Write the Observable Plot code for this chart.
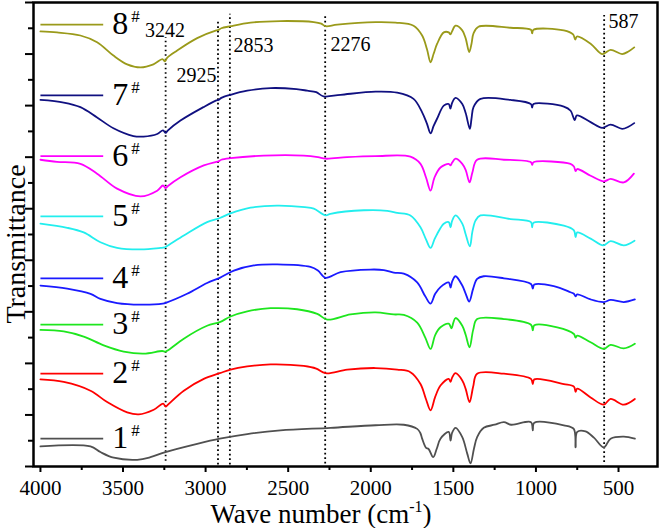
<!DOCTYPE html>
<html><head><meta charset="utf-8">
<script src="https://cdn.jsdelivr.net/npm/d3@7"></script>
<script src="https://cdn.jsdelivr.net/npm/@observablehq/plot@0.6"></script>
<style>body{margin:0;background:#fff}</style>
</head><body><div id="chart"></div>
<script>
// Spectra: [wave number (cm-1), transmittance (arbitrary, stacked)]
const s1 = [[4000,3.9],[3697,3.9],[3637,2.8],[3556,1.7],[3414,1.3],[3334,1.8],[3243,2.8],[3051,4.4],[2914,5.4],[2748,6.3],[2547,7.0],[2244,7.5],[1971,8.0],[1800,8.1],[1719,7.3],[1700,6.5],[1689,5.4],[1665,3.6],[1650,3.4],[1622,1.8],[1600,3.5],[1578,5.4],[1528,6.7],[1517,5.0],[1508,6.5],[1487,7.5],[1446,5.7],[1416,2.5],[1396,0.6],[1375,3.5],[1356,5.7],[1316,7.5],[1250,8.1],[1194,8.6],[1150,8.1],[1030,8.6],[1019,7.0],[1010,8.5],[831,8.0],[771,7.3],[760,3.7],[750,6.7],[700,6.8],[649,5.6],[589,3.7],[548,5.4],[468,5.8],[401,5.4]];
const s2 = [[4000,16.9],[3859,16.4],[3697,14.7],[3596,12.5],[3475,10.5],[3405,10.1],[3314,11.0],[3257,12.2],[3242,11.6],[3228,12.0],[3132,14.7],[3011,17.0],[2914,18.1],[2849,18.8],[2748,19.4],[2607,19.8],[2406,19.5],[2330,19.0],[2274,18.1],[2143,18.8],[1971,19.1],[1840,18.8],[1760,18.3],[1699,16.0],[1665,13.0],[1638,10.9],[1610,13.5],[1578,15.7],[1528,17.0],[1517,16.4],[1508,17.2],[1487,18.1],[1446,16.7],[1425,15.0],[1402,12.5],[1380,15.5],[1356,18.0],[1194,18.0],[1030,17.0],[1019,16.0],[1010,16.9],[831,16.0],[770,15.5],[760,14.5],[750,15.1],[669,13.4],[589,12.0],[548,13.1],[468,12.0],[401,13.1]];
const s3 = [[4000,26.5],[3859,26.2],[3738,25.2],[3617,23.5],[3496,22.3],[3374,21.9],[3263,22.4],[3243,22.3],[3225,22.6],[3132,24.8],[2991,27.3],[2914,28.0],[2849,29.1],[2748,30.1],[2607,30.7],[2446,30.5],[2324,29.6],[2264,28.5],[2123,29.5],[1971,29.9],[1861,29.5],[1800,29.4],[1719,27.9],[1670,25.0],[1638,22.8],[1610,25.5],[1578,27.0],[1528,27.7],[1511,26.8],[1500,27.9],[1487,28.8],[1446,27.3],[1425,25.5],[1402,23.1],[1380,26.5],[1356,28.6],[1194,28.6],[1030,27.5],[1019,26.4],[1010,27.4],[871,27.0],[770,25.7],[760,25.0],[750,25.4],[669,24.1],[589,22.8],[548,23.6],[468,22.9],[401,23.8]];
const s4 = [[4000,35.1],[3838,34.5],[3697,33.5],[3637,32.5],[3536,31.7],[3394,31.4],[3260,31.6],[3237,31.8],[3112,33.5],[2991,35.6],[2914,36.6],[2829,38.0],[2708,39.0],[2567,39.2],[2365,38.7],[2320,38.0],[2274,36.6],[2183,37.7],[2002,38.2],[1921,38.1],[1861,37.6],[1800,37.4],[1719,35.7],[1670,33.0],[1638,31.6],[1610,33.5],[1578,34.8],[1528,35.7],[1517,34.7],[1508,35.8],[1487,36.9],[1446,35.1],[1425,33.5],[1404,32.0],[1380,34.5],[1356,36.4],[1316,36.9],[1194,36.5],[1030,35.4],[1019,34.5],[1010,35.3],[892,35.0],[791,33.8],[770,33.5],[760,33.0],[750,33.4],[669,32.4],[589,31.9],[548,32.3],[468,31.9],[401,32.4]];
const s5 = [[4000,47.1],[3838,46.3],[3738,45.4],[3637,43.5],[3536,42.4],[3394,42.1],[3273,42.4],[3250,42.5],[3237,42.7],[3132,44.8],[2991,47.4],[2914,48.2],[2849,49.1],[2728,50.2],[2567,50.6],[2400,50.3],[2345,50.0],[2274,48.7],[2244,49.0],[2042,49.7],[1900,49.6],[1840,49.2],[1760,48.7],[1699,46.4],[1665,44.0],[1638,42.4],[1615,44.0],[1598,45.1],[1558,47.1],[1528,47.4],[1517,46.4],[1508,47.6],[1487,48.7],[1446,47.1],[1425,45.0],[1400,42.7],[1385,45.5],[1366,47.7],[1336,48.7],[1154,48.0],[1030,47.4],[1023,46.4],[1015,47.3],[831,46.7],[770,45.8],[760,44.5],[750,45.4],[669,44.2],[593,42.9],[548,43.7],[468,42.9],[403,43.8]];
const s6 = [[4000,59.5],[3900,59.1],[3758,58.7],[3657,56.8],[3536,53.9],[3394,52.4],[3293,53.5],[3258,54.5],[3242,54.0],[3228,54.4],[3152,56.1],[3011,58.4],[2935,59.1],[2922,59.2],[2905,59.5],[2849,59.8],[2648,60.3],[2406,60.3],[2320,60.0],[2274,59.7],[2143,60.0],[1971,60.2],[1760,60.1],[1699,58.7],[1665,56.0],[1638,53.5],[1615,56.0],[1578,58.0],[1528,58.7],[1517,58.4],[1508,58.9],[1487,59.7],[1446,58.7],[1425,57.5],[1402,55.1],[1385,57.0],[1356,59.5],[1194,59.5],[1030,59.0],[1023,58.5],[1015,59.0],[791,58.7],[770,58.2],[760,57.3],[750,57.7],[669,56.4],[589,55.3],[548,55.8],[468,55.1],[407,56.8]];
const s7 = [[4000,71.1],[3859,70.6],[3758,69.7],[3657,67.7],[3558,65.6],[3437,64.1],[3376,64.0],[3293,64.5],[3258,65.2],[3242,64.7],[3228,65.2],[3152,67.1],[3013,69.7],[2935,71.0],[2922,71.1],[2905,71.5],[2849,72.1],[2748,72.9],[2607,73.4],[2450,73.2],[2385,72.9],[2330,72.6],[2286,71.8],[2183,72.1],[1971,72.7],[1840,72.5],[1741,71.3],[1689,68.7],[1660,66.5],[1638,64.6],[1620,66.0],[1598,67.5],[1558,70.0],[1528,70.3],[1518,69.4],[1508,70.5],[1487,71.5],[1446,70.3],[1425,68.5],[1400,65.5],[1390,67.5],[1378,69.7],[1336,71.3],[1154,71.1],[1030,70.3],[1023,69.6],[1015,70.3],[831,69.8],[790,69.0],[765,67.2],[752,68.1],[669,66.8],[599,65.7],[548,66.3],[478,65.5],[440,65.9],[405,66.6]];
const s8 = [[4000,84.4],[3900,84.2],[3758,83.6],[3657,82.3],[3558,79.7],[3475,78.0],[3394,77.4],[3316,78.0],[3262,79.0],[3246,78.6],[3232,79.3],[3172,80.7],[3051,83.1],[2935,84.6],[2922,84.7],[2905,85.0],[2849,85.4],[2728,86.1],[2547,86.4],[2345,86.2],[2300,85.9],[2274,85.4],[2203,85.7],[1971,86.2],[1850,86.1],[1741,85.5],[1689,83.6],[1660,81.0],[1638,78.4],[1620,80.0],[1598,82.0],[1558,84.2],[1528,84.2],[1518,83.8],[1508,84.4],[1487,85.5],[1446,84.6],[1425,83.0],[1404,80.4],[1390,82.0],[1378,84.0],[1348,85.3],[1154,85.1],[1030,84.7],[1023,84.0],[1015,84.7],[831,84.6],[775,83.8],[762,82.8],[752,83.4],[669,82.0],[599,80.0],[548,80.8],[478,80.0],[440,80.5],[405,81.3]];

const seriesNames = ["1", "2", "3", "4", "5", "6", "7", "8"];
const seriesData = [s1, s2, s3, s4, s5, s6, s7, s8];
const seriesColors = ["#505050", "#ff0000", "#1ee61e", "#1a1aff", "#22eeee", "#ff00ff", "#101080", "#9a9a1a"];
const legendLevel = [5.4, 18.0, 27.5, 36.5, 48.5, 60.2, 72.0, 85.7];

const xTicks = [4000, 3500, 3000, 2500, 2000, 1500, 1000, 500];
const xMinorTicks = [3750, 3250, 2750, 2250, 1750, 1250, 750];
const yMajorTicks = [0, 10, 20, 30, 40, 50, 60, 70, 80, 90];
const yMinorTicks = [5, 15, 25, 35, 45, 55, 65, 75, 85];

const peakWn = [3242, 2925, 2853, 2276, 587];
const peakTop = [83.2, 86.7, 87.7, 87.5, 87.5];
const peakBottom = [1.0, 0.3, 0.3, 0.5, 0.8];
const peakLabelWn = [3246, 2934, 2831, 2244, 560];
const peakLabelT = [84.5, 75.8, 81.6, 81.9, 86.3];
const peakLabelAnchor = ["middle", "end", "start", "start", "start"];

const rows = seriesData.flatMap((arr, i) => arr.map(([wn, t]) => ({wn, t, s: seriesNames[i]})));
const legendRows = seriesNames.map((s, i) => ({s, y: legendLevel[i]}));
const peaks = peakWn.map((wn, i) => ({wn, top: peakTop[i], bottom: peakBottom[i], lx: peakLabelWn[i], ly: peakLabelT[i], anchor: peakLabelAnchor[i], label: String(wn)}));

const font = "'Liberation Serif','Times New Roman',serif";
const chart = Plot.plot({
  width: 661, height: 528,
  marginLeft: 33, marginRight: 4, marginTop: 2, marginBottom: 62,
  style: {fontFamily: font, background: "#fff", color: "#000", overflow: "visible"},
  x: {domain: [4042, 264], axis: null},
  y: {domain: [0, 90], axis: null},
  color: {domain: seriesNames, range: seriesColors},
  marks: [
    Plot.axisX({ticks: xTicks, tickSize: 6, tickPadding: 8, fontSize: 21, strokeWidth: 2, label: null, tickFormat: d => String(d)}),
    Plot.axisX({ticks: xMinorTicks, tickSize: 4, strokeWidth: 2, text: null, label: null}),
    Plot.axisY({ticks: yMajorTicks, tickSize: 8, strokeWidth: 2, text: null, label: null}),
    Plot.axisY({ticks: yMinorTicks, tickSize: 5, strokeWidth: 2, text: null, label: null}),
    ...["middle", "end", "start"].map(a => Plot.text(peaks.filter(p => p.anchor === a), {x: "lx", y: "ly", text: "label", textAnchor: a, lineAnchor: "middle", fontSize: 20, fill: "#000"})),
    Plot.ruleX(peaks, {x: "wn", y1: "bottom", y2: "top", stroke: "#000", strokeWidth: 1.8, strokeDasharray: "1.6,2.9"}),
    Plot.line(rows, {x: "wn", y: "t", z: "s", stroke: "s", strokeWidth: 1.8, curve: "catmull-rom"}),
    Plot.link(legendRows, {x1: 4000, x2: 3620, y1: "y", y2: "y", stroke: "s", strokeWidth: 1.8}),
    Plot.text(legendRows, {x: 3565, y: "y", text: "s", textAnchor: "start", lineAnchor: "middle", dy: -0.5, fontSize: 32, fill: "#000"}),
    Plot.text(legendRows, {x: 3565, y: "y", text: d => "#", textAnchor: "start", lineAnchor: "middle", dx: 19, dy: -8, fontSize: 17, fill: "#000"}),
    Plot.frame({stroke: "#000", strokeWidth: 2.5})
  ]
});
document.getElementById("chart").appendChild(chart);

const svg = d3.select(chart);
svg.selectAll('[aria-label="x-axis tick label"]').attr("font-size", 21).style("font-size", "21px");
const xt = svg.append("text").attr("x", 321).attr("y", 523).attr("text-anchor", "middle")
  .attr("font-size", 27).attr("font-family", font).attr("fill", "#000");
xt.append("tspan").text("Wave number (cm");
xt.append("tspan").attr("font-size", 16).attr("dy", -11).text("-1");
xt.append("tspan").attr("dy", 11).text(")");
svg.append("text").attr("transform", "translate(25,244) rotate(-90)").attr("text-anchor", "middle")
  .attr("font-size", 28).attr("font-family", font).attr("fill", "#000").text("Transmittance");
</script></body></html>
